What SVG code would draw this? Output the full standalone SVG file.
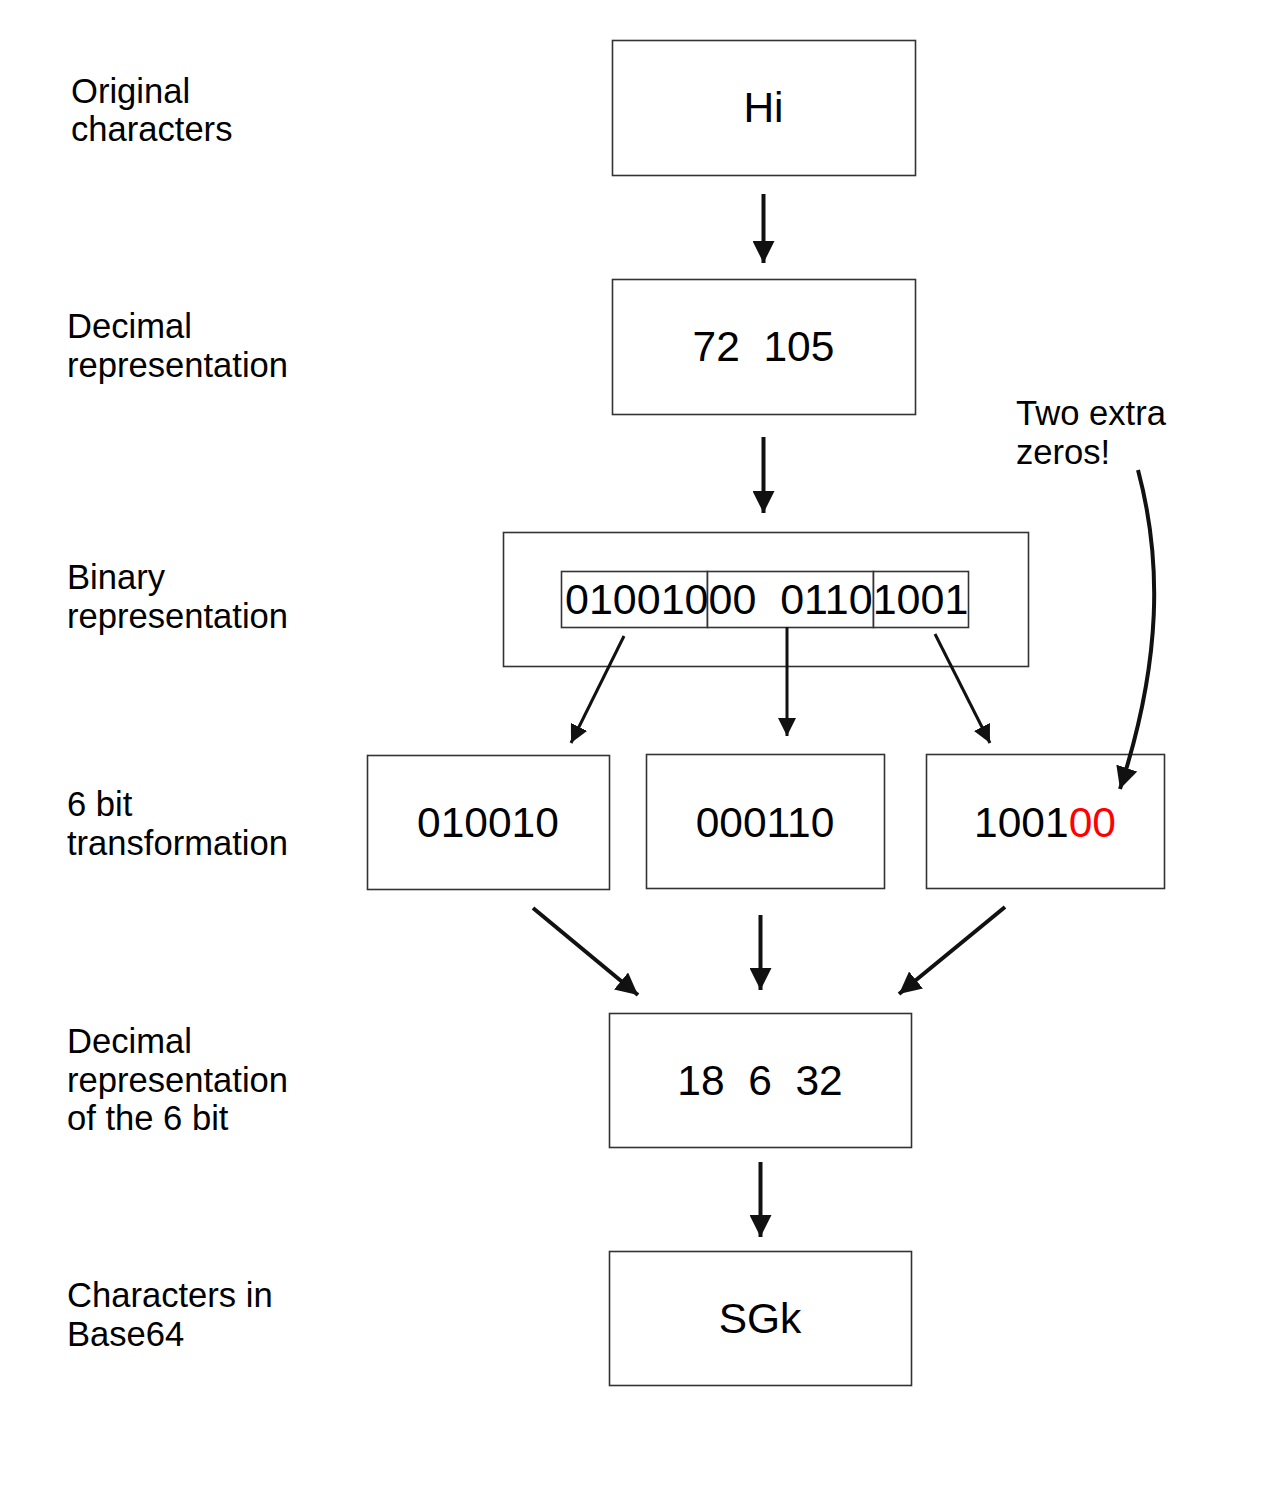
<svg xmlns="http://www.w3.org/2000/svg" width="1285" height="1512" viewBox="0 0 1285 1512">
<style>
.box{fill:#fff;stroke:#333;stroke-width:1.6}
.lbl{font-family:"Liberation Sans",Arial,sans-serif;font-size:34.6px;fill:#000}
.big{font-family:"Liberation Sans",Arial,sans-serif;font-size:42.5px;fill:#000;text-anchor:middle;white-space:pre}
.thick{stroke:#111;stroke-width:4;fill:none}
.thin{stroke:#111;stroke-width:3;fill:none}
</style>
<defs>
<marker id="ah" viewBox="0 0 10 10" refX="10" refY="5" markerWidth="5.5" markerHeight="5.5" markerUnits="strokeWidth" orient="auto">
<path d="M0,0 L10,5 L0,10 Z" fill="#111"/>
</marker>
<marker id="ah2" viewBox="0 0 10 10" refX="10" refY="5" markerWidth="6" markerHeight="6" markerUnits="strokeWidth" orient="auto">
<path d="M0,0 L10,5 L0,10 Z" fill="#111"/>
</marker>
</defs>
<rect width="1285" height="1512" fill="#fff"/>
<g id="labels">
<text class="lbl" x="71" y="103">Original</text>
<text class="lbl" x="71" y="141">characters</text>
<text class="lbl" x="67" y="338">Decimal</text>
<text class="lbl" x="67" y="377">representation</text>
<text class="lbl" x="67" y="589">Binary</text>
<text class="lbl" x="67" y="628">representation</text>
<text class="lbl" x="67" y="816">6 bit</text>
<text class="lbl" x="67" y="855">transformation</text>
<text class="lbl" x="67" y="1053">Decimal</text>
<text class="lbl" x="67" y="1092">representation</text>
<text class="lbl" x="67" y="1130">of the 6 bit</text>
<text class="lbl" x="67" y="1307">Characters in</text>
<text class="lbl" x="67" y="1346">Base64</text>
<text class="lbl" x="1016" y="425">Two extra</text>
<text class="lbl" x="1016" y="464">zeros!</text>
</g>
<g id="n-hi"><rect class="box" x="612.5" y="40.5" width="303" height="135"/><text class="big" x="763.5" y="122">Hi</text></g>
<g id="n-dec"><rect class="box" x="612.5" y="279.5" width="303" height="135"/><text class="big" x="763.5" y="361">72  105</text></g>
<g id="n-bin">
<rect class="box" x="503.5" y="532.5" width="525" height="134"/>
<rect class="box" x="561.5" y="571.5" width="146" height="56"/>
<rect class="box" x="707.5" y="571.5" width="166" height="56"/>
<rect class="box" x="873.5" y="571.5" width="95" height="56"/>
<text class="big" x="565" y="614" style="text-anchor:start;font-size:43px">01001000  01101001</text>
</g>
<g id="n-b1"><rect class="box" x="367.5" y="755.5" width="242" height="134"/><text class="big" x="488" y="837">010010</text></g>
<g id="n-b2"><rect class="box" x="646.5" y="754.5" width="238" height="134"/><text class="big" x="765" y="837">000110</text></g>
<g id="n-b3"><rect class="box" x="926.5" y="754.5" width="238" height="134"/><text class="big" x="1045" y="837">1001<tspan fill="#ff0000">00</tspan></text></g>
<g id="n-d6"><rect class="box" x="609.5" y="1013.5" width="302" height="134"/><text class="big" x="760" y="1095">18  6  32</text></g>
<g id="n-sgk"><rect class="box" x="609.5" y="1251.5" width="302" height="134"/><text class="big" x="760" y="1333">SGk</text></g>
<g id="connectors">
<line class="thick" x1="763.5" y1="194" x2="763.5" y2="263" marker-end="url(#ah)"/>
<line class="thick" x1="763.5" y1="437" x2="763.5" y2="513" marker-end="url(#ah)"/>
<line class="thin" x1="624" y1="636" x2="571" y2="743" marker-end="url(#ah2)"/>
<line class="thin" x1="787" y1="627" x2="787" y2="736" marker-end="url(#ah2)"/>
<line class="thin" x1="935" y1="634" x2="990" y2="743" marker-end="url(#ah2)"/>
<line class="thick" x1="533" y1="908" x2="638" y2="995" marker-end="url(#ah)"/>
<line class="thick" x1="760.5" y1="915" x2="760.5" y2="990" marker-end="url(#ah)"/>
<line class="thick" x1="1005" y1="907" x2="899" y2="994" marker-end="url(#ah)"/>
<line class="thick" x1="760.5" y1="1162" x2="760.5" y2="1237" marker-end="url(#ah)"/>
<path class="thick" d="M1138,470 C1162,560 1162,660 1120,789" marker-end="url(#ah)"/>
</g>
</svg>
